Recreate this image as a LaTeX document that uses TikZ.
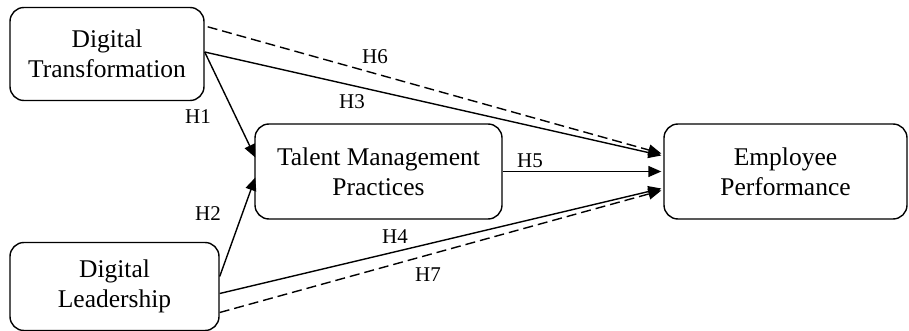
\documentclass[tikz,border=0pt]{standalone}
\usepackage{fontspec}
\setmainfont{Liberation Serif}
\usetikzlibrary{arrows.meta,calc}
\begin{document}
\begin{tikzpicture}[x=1pt,y=-1pt,
  box/.style={draw,line width=1.4pt,rounded corners=14pt,align=center,inner sep=0pt,
    font=\fontsize{25.5}{30}\selectfont},
  lab/.style={inner sep=0pt,font=\fontsize{21}{24}\selectfont},
  arr/.style={line width=1.4pt,-{Triangle[length=13pt,width=11pt]}},
  dsh/.style={arr,dash pattern=on 10pt off 5pt}]
\useasboundingbox (0,0) rectangle (909,331);
\node[box,minimum width=194pt,minimum height=93pt] (DT) at (107,54) {Digital\\Transformation};
\node[box,minimum width=209pt,minimum height=88pt] (DL) at (114.5,286.5) {Digital\\Leadership};
\node[box,minimum width=247pt,minimum height=95pt] (TMP) at (378.5,171.5) {Talent Management\\Practices};
\node[box,minimum width=243pt,minimum height=95pt] (EP) at (785.5,171.5) {Employee\\Performance};
% connectors
\draw[arr] ($(DT.east)+(0,-2)$) -- ($(TMP.west)+(1,-14)$);
\draw[arr] ($(DL.east)+(0,-10)$) -- ($(TMP.west)+(1,6)$);
\draw[arr] ($(DT.east)+(0,-2)$) -- ($(EP.west)+(-2,-16)$);
\draw[dsh] ($(DT.north east)+(3,20)$) -- ($(EP.west)+(-2,-18)$);
\draw[arr] (TMP.east) -- ($(EP.west)+(-2,0)$);
\draw[arr] ($(DL.east)+(0,7)$) -- ($(EP.west)+(-2,17)$);
\draw[dsh] ($(DL.east)+(0,26)$) -- ($(EP.west)+(-2,19)$);
% labels
\node[lab] (h1) at (198,117) {H1};
\node[lab] (h2) at (208,214) {H2};
\node[lab] (h3) at (352,102) {H3};
\node[lab] (h4) at (395,237) {H4};
\node[lab] (h5) at (530,161) {H5};
\node[lab] (h6) at (375,56.5) {H6};
\node[lab] (h7) at (428,275) {H7};
\end{tikzpicture}
\end{document}
